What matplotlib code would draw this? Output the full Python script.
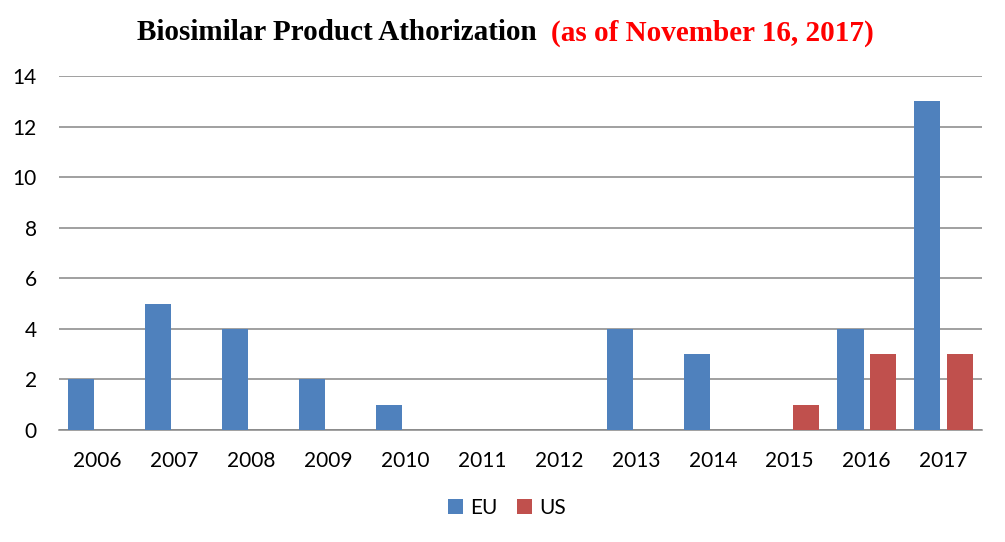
import matplotlib
matplotlib.use("Agg")
import matplotlib.pyplot as plt
import numpy as np

years = ["2006", "2007", "2008", "2009", "2010", "2011", "2012", "2013", "2014", "2015", "2016", "2017"]
eu = [2, 5, 4, 2, 1, 0, 0, 4, 3, 0, 4, 13]
us = [0, 0, 0, 0, 0, 0, 0, 0, 0, 1, 3, 3]
yticks = [0, 2, 4, 6, 8, 10, 12, 14]
title_main = "Biosimilar Product Athorization"
title_note = "(as of November 16, 2017)"

W, H = 1005, 542
fig = plt.figure(figsize=(W / 100, H / 100), dpi=100)
ax = fig.add_axes([59 / W, 112 / H, (982 - 59) / W, (430 - 76) / H])

x = np.arange(len(years))
bw = 0.34
off = 0.21
ax.bar(x - off, eu, width=bw, color="#4F81BD", label="EU", zorder=3)
ax.bar(x + off, us, width=bw, color="#C0504D", label="US", zorder=3)

ax.set_xlim(-0.5, len(years) - 0.5)
ax.set_ylim(0, 14)
ax.set_yticks(yticks)
ax.set_xticks(x)
ax.set_xticklabels(years)
ax.yaxis.grid(True, color="#868686", linewidth=1.1, zorder=0)
ax.set_axisbelow(True)
for s in ["top", "right", "left"]:
    ax.spines[s].set_visible(False)
ax.spines["bottom"].set_color("#868686")
ax.spines["bottom"].set_linewidth(1.1)
ax.tick_params(axis="both", length=0, labelsize=15)
ax.tick_params(axis="x", pad=15)
ax.tick_params(axis="y", pad=16)
for lab in ax.get_xticklabels() + ax.get_yticklabels():
    lab.set_fontfamily("Lato")

leg = fig.legend(loc="center", bbox_to_anchor=(507 / W, 1 - 508 / H), ncol=2, frameon=False,
                 prop={"family": "Lato", "size": 15}, handlelength=0.75, handleheight=0.75,
                 handletextpad=0.35, columnspacing=0.9)

t1 = fig.text(137 / W, 1 - 33 / H, title_main, fontsize=21, fontweight="bold",
              family="Liberation Serif", color="black", va="center", ha="left")
fig.canvas.draw()
bb = t1.get_window_extent()
fig.text((bb.x1 + 14) / W, 1 - 33 / H, title_note, fontsize=21, fontweight="bold",
         family="Liberation Serif", color="#FF0000", va="center", ha="left")

fig.savefig("out.png", dpi=100)
